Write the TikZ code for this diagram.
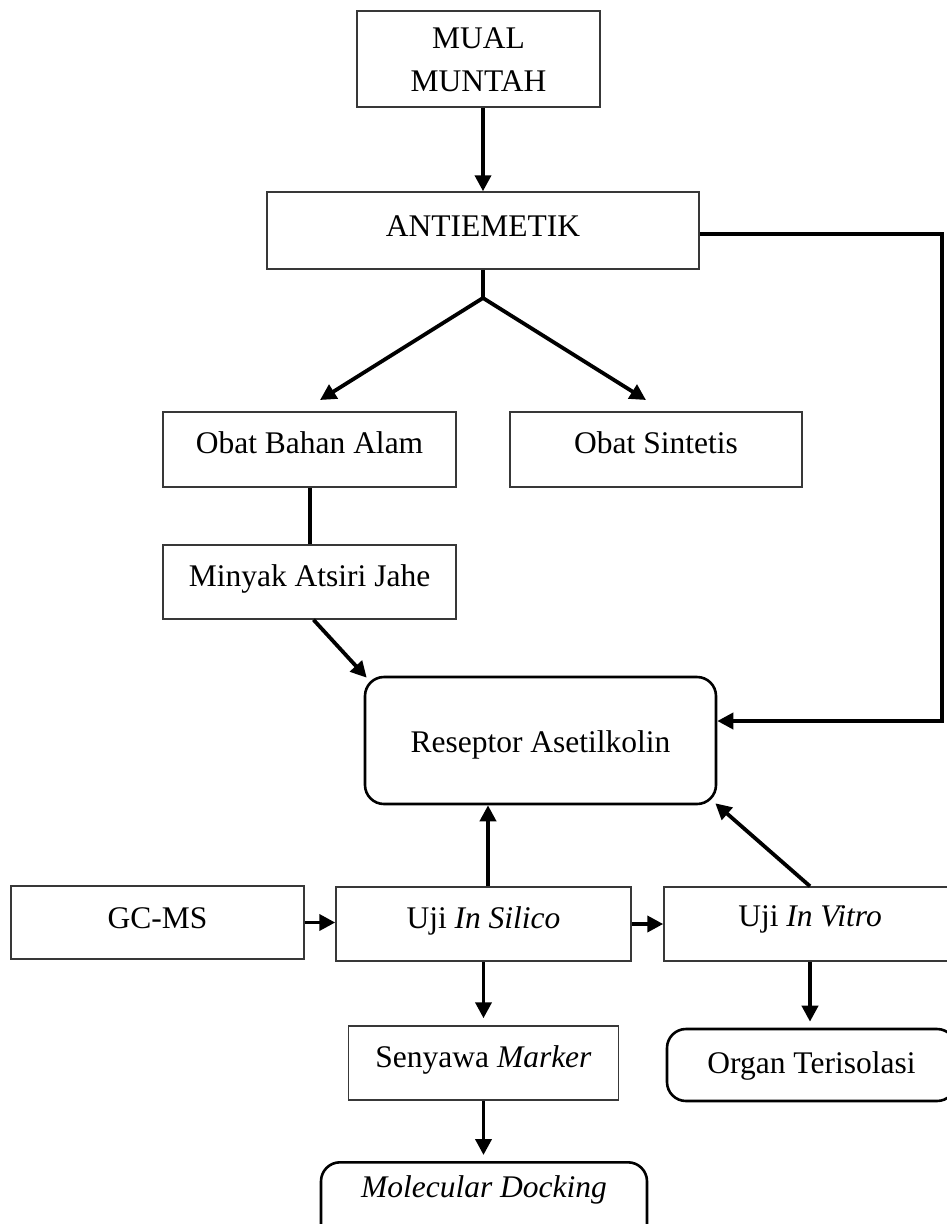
\documentclass[tikz,border=0pt]{standalone}
\usepackage{fontspec}
\setmainfont{Liberation Serif}
\usetikzlibrary{arrows.meta}
\begin{document}
\begin{tikzpicture}[x=1pt,y=-1pt,
  rbox/.style={draw=black!78, line width=1.5pt, inner sep=0pt, align=center,
    font=\fontsize{31.5}{43}\selectfont, text height=22pt},
  cbox/.style={draw=black, line width=2.6pt, rounded corners=19pt, inner sep=0pt,
    align=center, font=\fontsize{31.5}{43}\selectfont, text height=22pt},
  txt/.style={inner sep=0pt, font=\fontsize{31.5}{43}\selectfont},
  link/.style={line width=4pt, draw=black},
  arr/.style={line width=3.8pt, draw=black, -{Triangle[length=16pt,width=16pt]}}
]
\useasboundingbox (0,0) rectangle (947,1224);
\clip (0,0) rectangle (947,1224);

% boxes
\node[rbox, minimum width=243, minimum height=96, text height=65pt, text depth=0pt] (mual) at (478.5,59) {MUAL\\MUNTAH};
\node[rbox, minimum width=432, minimum height=77, text depth=10pt] (anti) at (483,230.5) {ANTIEMETIK};
\node[rbox, minimum width=293, minimum height=75, text depth=14pt] (oba) at (309.5,449.5) {Obat Bahan Alam};
\node[rbox, minimum width=292, minimum height=75, text depth=14pt] (obs) at (656,449.5) {Obat Sintetis};
\node[rbox, minimum width=293, minimum height=74, text depth=13pt] (miny) at (309.5,582) {Minyak Atsiri Jahe};
\node[cbox, minimum width=351, minimum height=127, text height=24pt, text depth=0pt] (res) at (540.5,740.5) {Reseptor Asetilkolin};
\node[rbox, minimum width=293, minimum height=73, text depth=10pt] (gc) at (157.5,922.5) {GC-MS};
\node[rbox, minimum width=295, minimum height=74, text depth=14pt] (sil) at (483.5,924) {Uji \textit{In Silico}};
\node[rbox, minimum width=292, minimum height=74, text depth=17pt] (vit) at (810,924) {Uji \textit{In Vitro}};
\node[rbox, minimum width=270, minimum height=74, text depth=13pt] (sen) at (483.5,1063) {Senyawa \textit{Marker}};
\node[cbox, minimum width=289, minimum height=72, text depth=5pt] (org) at (811.5,1065) {Organ Terisolasi};
\node[cbox, minimum width=326, minimum height=80, anchor=north] (mol) at (484,1161) {};
\node[txt] (moltxt) at (484,1190) {\textit{Molecular Docking}};

% connectors
\coordinate (j) at (483,298);
\coordinate (ta) at (320,400);
\coordinate (tb) at (646,400);
\coordinate (c1) at (942,234);
\coordinate (c2) at (942,721);

\draw[arr] (anti.north |- mual.south) -- (anti.north);
\draw[link] (anti.south) -- (j);
\draw[arr] (j) -- (ta);
\draw[arr] (j) -- (tb);
\draw[link] (oba.south) -- (miny.north);
\draw[arr] ([xshift=4pt]miny.south) -- ([shift={(3pt,-2pt)}]res.north west);
\draw[arr] (anti.east |- c1) -- (c1) -- (c2) -- (c2 -| res.east);
\draw[arr] ([xshift=4.5pt]sil.north) -- ([xshift=4.5pt]sil.north |- res.south);
\draw[arr] (vit.north) -- ([shift={(-2pt,2pt)}]res.south east);
\draw[arr] (gc.east) -- (gc.east -| sil.west);
\draw[arr] (sil.east) -- (vit.west);
\draw[arr, shorten >=7pt] (sil.south) -- (sil.south |- sen.north);
\draw[arr, shorten >=6pt] (vit.south) -- (vit.south |- org.north);
\draw[arr, shorten >=6pt] (sen.south) -- (sen.south |- mol.north);
\end{tikzpicture}
\end{document}
